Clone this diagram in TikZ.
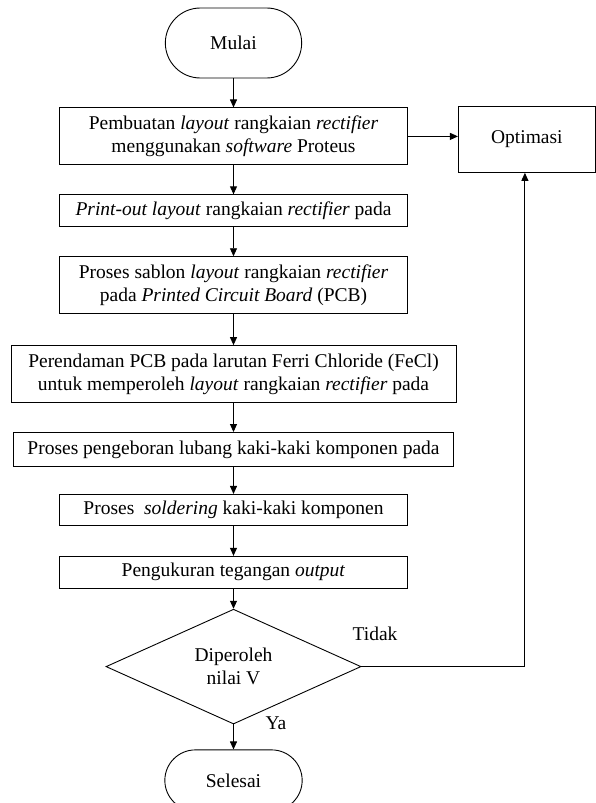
\documentclass[tikz,border=0pt]{standalone}
\usepackage{fontspec}
\setmainfont{Liberation Serif}
\usetikzlibrary{positioning}
\usetikzlibrary{shapes.geometric,shapes.misc}
\usetikzlibrary{arrows.meta}

\begin{document}
\begin{tikzpicture}[
            x=1pt, y=1pt,
            node distance=29pt,
            font=\fontsize{19.5}{23}\selectfont,
            line width=0.9pt,
            >={Triangle[length=8pt,width=7pt]},
            terminalnode/.style={rounded rectangle, draw=black, align=center, minimum width=143pt, minimum height=70pt},
            squarednode/.style={rectangle, align=center, draw=black, inner sep=3pt, minimum width=348pt, minimum height=32pt},
            tallnode/.style={squarednode, minimum height=57pt},
            decisionnode/.style={diamond, draw=black, align=center, inner sep=0pt, minimum width=255pt, minimum height=111pt},
        ]

        \useasboundingbox (0,0) rectangle (595,-803);

        % Nodes.
        \node[terminalnode] (mulai) at (233.5,-43) {Mulai};
        \node[tallnode]     (pembuatan)  [below=of mulai]      {Pembuatan \textit{layout} rangkaian \textit{rectifier}\\menggunakan \textit{software} Proteus};
        \node[squarednode]  (printout)   [below=of pembuatan]  {\textit{Print-out layout} rangkaian \textit{rectifier} pada};
        \node[tallnode]     (sablon)     [below=of printout]   {Proses sablon \textit{layout} rangkaian \textit{rectifier}\\pada \textit{Printed Circuit Board} (PCB)};
        \node[tallnode, minimum width=445pt] (perendaman) [below=31pt of sablon] {Perendaman PCB pada larutan Ferri Chloride (FeCl)\\untuk memperoleh \textit{layout} rangkaian \textit{rectifier} pada};
        \node[squarednode, minimum width=440pt, minimum height=34pt] (pengeboran) [below=of perendaman] {Proses pengeboran lubang kaki-kaki komponen pada};
        \node[squarednode, minimum height=31pt] (soldering)  [below=27pt of pengeboran] {Proses\ \ \textit{soldering} kaki-kaki komponen};
        \node[squarednode]  (pengukuran) [below=30pt of soldering] {Pengukuran tegangan \textit{output}};
        \node[decisionnode] (keputusan)  [below=20pt of pengukuran] {Diperoleh\\nilai V};
        \node[terminalnode, minimum width=144pt, minimum height=61pt] (selesai) [below=25pt of keputusan] {Selesai};
        \node[squarednode, minimum width=137pt, minimum height=66pt] (optimasi) [right=50pt of pembuatan, yshift=-3pt] {Optimasi};

        % Labels.
        \node (tidak) at (375,-634) {Tidak};
        \node (ya)    at (276,-723) {Ya};

        % Lines.
        \draw[->] (mulai.south) -- (pembuatan.north);
        \draw[->] (pembuatan.south) -- (printout.north);
        \draw[->] (printout.south) -- (sablon.north -| printout.south);
        \draw[->] (sablon.south -| printout.south) -- (perendaman.north -| printout.south);
        \draw[->] (perendaman.south) -- (pengeboran.north);
        \draw[->] (pengeboran.south) -- (soldering.north);
        \draw[->] (soldering.south) -- (pengukuran.north);
        \draw[->] (pengukuran.south) -- (keputusan.north);
        \draw[->] (keputusan.south) -- (selesai.north);
        \draw[->] (pembuatan.east) -- (pembuatan.east -| optimasi.west);
        \draw[->] (keputusan.east) -| ([xshift=-2pt]optimasi.south);
    \end{tikzpicture}
\end{document}
